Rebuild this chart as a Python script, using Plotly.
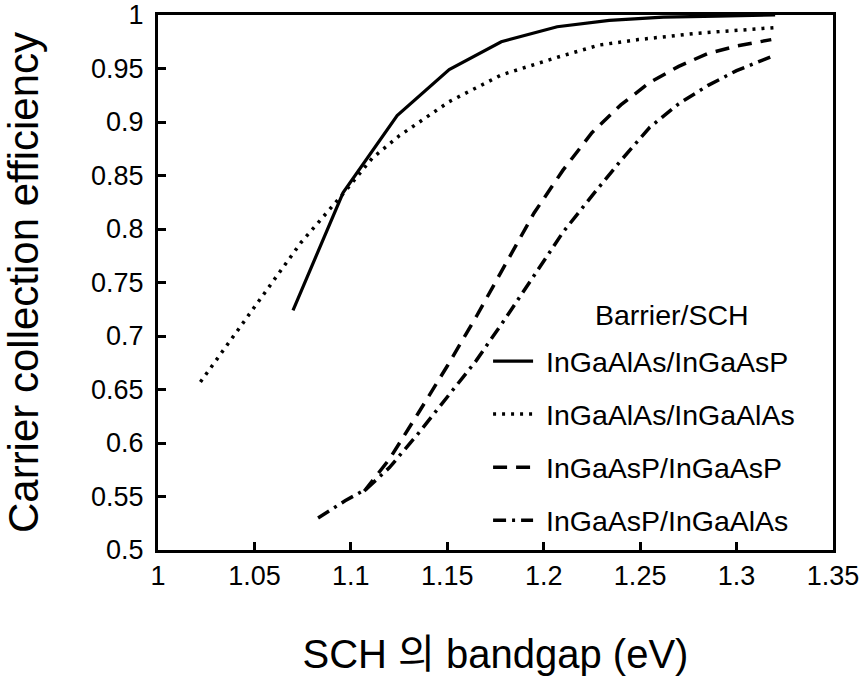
import plotly.graph_objects as go

# ---- data ----
x_ticks = [1.0, 1.05, 1.1, 1.15, 1.2, 1.25, 1.3, 1.35]
x_tick_labels = ["1", "1.05", "1.1", "1.15", "1.2", "1.25", "1.3", "1.35"]
y_ticks = [0.5, 0.55, 0.6, 0.65, 0.7, 0.75, 0.8, 0.85, 0.9, 0.95, 1.0]
y_tick_labels = ["0.5", "0.55", "0.6", "0.65", "0.7", "0.75", "0.8", "0.85", "0.9", "0.95", "1"]

legend_title = "Barrier/SCH"
names = ["InGaAlAs/InGaAsP", "InGaAlAs/InGaAlAs", "InGaAsP/InGaAsP", "InGaAsP/InGaAlAs"]

x_alas_asp = [1.070, 1.096, 1.124, 1.151, 1.178, 1.207, 1.234, 1.262, 1.290, 1.320]
y_alas_asp = [0.724, 0.834, 0.906, 0.949, 0.975, 0.989, 0.995, 0.998, 0.999, 1.000]

x_alas_alas = [1.022, 1.050, 1.074, 1.096, 1.111, 1.125, 1.151, 1.178, 1.208, 1.229, 1.249, 1.280, 1.300, 1.322]
y_alas_alas = [0.657, 0.727, 0.787, 0.833, 0.866, 0.887, 0.919, 0.944, 0.961, 0.972, 0.977, 0.983, 0.986, 0.9885]

x_asp_asp = [1.107, 1.120, 1.135, 1.150, 1.165, 1.180, 1.195, 1.210, 1.225, 1.240, 1.255, 1.270, 1.285, 1.300, 1.318]
y_asp_asp = [0.555, 0.585, 0.628, 0.672, 0.718, 0.766, 0.815, 0.855, 0.890, 0.916, 0.937, 0.952, 0.964, 0.971, 0.977]

x_asp_alas = [1.083, 1.097, 1.108, 1.120, 1.135, 1.150, 1.165, 1.180, 1.195, 1.210, 1.225, 1.240, 1.255, 1.270, 1.285, 1.300, 1.320]
y_asp_alas = [0.530, 0.546, 0.557, 0.577, 0.609, 0.643, 0.677, 0.716, 0.757, 0.797, 0.831, 0.864, 0.895, 0.917, 0.934, 0.948, 0.9626]

series_x = [x_alas_asp, x_alas_alas, x_asp_asp, x_asp_alas]
series_y = [y_alas_asp, y_alas_alas, y_asp_asp, y_asp_alas]
dashes = ["solid", "3px,6px", "14px,9px", "13px,6px,3px,6px"]
widths = [3.2, 3.5, 3.5, 3.5]

FONT = "Liberation Sans, Arial, Helvetica, Noto Sans CJK KR, sans-serif"

fig = go.Figure()
for i in range(4):
    fig.add_trace(go.Scatter(
        x=series_x[i], y=series_y[i], mode="lines", name="\u00a0" + names[i],
        legendgroup=names[i],
        line=dict(color="black", width=widths[i], dash=dashes[i]),
    ))

axis_common = dict(
    showline=True, linecolor="black", linewidth=3, mirror=True,
    ticks="inside", ticklen=8, tickwidth=2.5, tickcolor="black",
    showgrid=False, zeroline=False, automargin=False,
    tickfont=dict(family=FONT, size=27, color="black"),
)

fig.update_layout(
    template="none",
    width=863, height=688,
    margin=dict(l=158, r=30, t=15, b=138),
    paper_bgcolor="white", plot_bgcolor="white",
    font=dict(family=FONT, color="black"),
    xaxis=dict(range=[1.0, 1.35], tickvals=x_ticks, ticktext=x_tick_labels,
               ticklabelstandoff=0,
               title=dict(text="SCH 의 bandgap (eV)", font=dict(family=FONT, size=40), standoff=50),
               **axis_common),
    yaxis=dict(range=[0.5, 1.0], tickvals=y_ticks, ticktext=y_tick_labels,
               ticklabelstandoff=6,
               title=dict(text="Carrier collection efficiency", font=dict(family=FONT, size=42), standoff=40),
               **axis_common),
    legend=dict(
        x=0.489, y=0.400, xanchor="left", yanchor="top",
        bgcolor="rgba(0,0,0,0)", borderwidth=0,
        font=dict(family=FONT, size=28.5, color="black"),
        itemwidth=40, tracegroupgap=13,
    ),
    showlegend=True,
    annotations=[dict(
        text=legend_title, xref="paper", yref="paper", x=0.7615, y=0.439,
        xanchor="center", yanchor="middle", showarrow=False,
        font=dict(family=FONT, size=28.5, color="black"),
    )],
)

fig.write_html(
    "out.html",
    config={"displayModeBar": False},
    post_script=["document.body.style.margin='0';document.body.style.overflow='hidden';"],
)
